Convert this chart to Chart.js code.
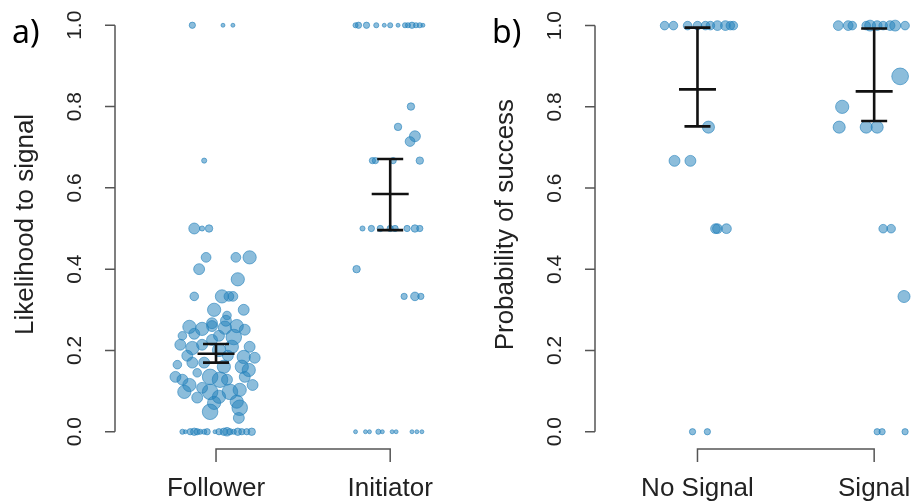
<!DOCTYPE html>
<html>
<head>
<meta charset="utf-8">
<script src="https://cdn.jsdelivr.net/npm/chart.js@4/dist/chart.umd.min.js"></script>
<style>
  html, body { margin: 0; padding: 0; background: #fff; overflow: hidden; width: 912px; height: 502px; }
  #panelA { position: absolute; left: 0; top: 0; }
  #panelB { position: absolute; left: 456px; top: 0; }
</style>
</head>
<body>
<canvas id="panelA" width="500" height="502"></canvas>
<canvas id="panelB" width="530" height="502"></canvas>
<script>
const yTicks = [0, 0.2, 0.4, 0.6, 0.8, 1.0];

// a) likelihood to signal, by role  (x = jittered group position, n = observations)
const roleNames = ['Follower', 'Initiator'];
const followerX = [
  0.864, 1.040, 1.097, 0.932, 0.875, 0.920, 0.960, 0.943, 1.114, 1.193, 0.903, 1.125, 0.875, 1.034, 1.074, 1.097, 0.989, 1.159, 1.063, 1.057, 0.977,
  0.847, 0.920, 0.977, 1.051, 1.119, 1.165, 0.807, 0.875, 1.102, 1.017, 1.193, 0.795, 0.864, 1.017, 1.159, 0.932, 0.864, 1.045, 1.148, 1.188,
  0.892, 0.767, 0.966, 1.165, 1.023, 0.807, 0.847, 0.818, 0.966, 1.080, 1.136, 1.017, 1.119, 0.989, 0.892, 0.966, 1.136, 1.131, 1.068, 1.222,
  0.920, 1.091, 0.835, 1.063, 0.920, 1.210, 0.778, 0.977,
  0.807, 0.824, 0.852, 0.875, 0.892, 0.909, 0.932, 0.949, 0.994, 1.017, 1.045, 1.063, 1.080, 1.102, 1.125, 1.148, 1.176, 1.205
];
const followerY = [
  1, 1, 1, 0.667, 0.5, 0.5, 0.5, 0.429, 0.429, 0.429, 0.4, 0.375, 0.333, 0.333, 0.333, 0.333, 0.3, 0.3, 0.286, 0.273, 0.267,
  0.258, 0.253, 0.260, 0.256, 0.260, 0.251, 0.236, 0.241, 0.233, 0.236, 0.209, 0.214, 0.206, 0.201, 0.184, 0.170, 0.170, 0.160, 0.160, 0.152,
  0.145, 0.135, 0.135, 0.135, 0.128, 0.128, 0.115, 0.098, 0.098, 0.098, 0.103, 0.086, 0.074, 0.071, 0.084, 0.049, 0.059, 0.034, 0.187, 0.182,
  0.214, 0.209, 0.187, 0.128, 0.108, 0.115, 0.165, 0.226,
  0, 0, 0, 0, 0, 0, 0, 0, 0, 0, 0, 0, 0, 0, 0, 0, 0, 0
];
const followerN = [
  3, 1, 1, 2, 7, 2, 4, 6, 6, 9, 7, 9, 5, 9, 6, 6, 9, 7, 5, 7, 7,
  9, 9, 7, 9, 9, 7, 5, 7, 11, 7, 7, 7, 9, 9, 9, 7, 7, 9, 9, 9,
  5, 7, 11, 7, 11, 7, 9, 9, 11, 11, 9, 9, 9, 9, 7, 11, 11, 7, 7, 7,
  7, 9, 7, 7, 7, 7, 5, 7,
  2, 1, 3, 4, 3, 2, 2, 3, 1, 3, 4, 5, 3, 2, 4, 3, 3, 4
];
const initiatorX = [
  1.801, 1.818, 1.864, 1.920, 1.966, 2.000, 2.045, 2.085, 2.102, 2.125, 2.148, 2.170, 2.188,
  2.119, 2.045, 2.142, 2.114,
  1.898, 1.915, 2.017, 2.170,
  1.841, 1.892, 1.943, 2.000, 2.028, 2.097, 2.142, 2.170,
  1.807, 2.080, 2.142, 2.176,
  1.801, 1.858, 1.881, 1.932, 1.955, 2.011, 2.034, 2.125, 2.153, 2.182
];
const initiatorY = [
  1, 1, 1, 1, 1, 1, 1, 1, 1, 1, 1, 1, 1,
  0.8, 0.75, 0.727, 0.714,
  0.667, 0.667, 0.667, 0.667,
  0.5, 0.5, 0.5, 0.5, 0.5, 0.5, 0.5, 0.5,
  0.4, 0.333, 0.333, 0.333,
  0, 0, 0, 0, 0, 0, 0, 0, 0, 0
];
const initiatorN = [
  2, 3, 3, 2, 1, 2, 1, 2, 2, 3, 2, 2, 1,
  4, 4, 7, 6,
  3, 3, 3, 4,
  2, 3, 3, 3, 3, 3, 4, 3,
  4, 3, 5, 3,
  1, 1, 1, 2, 1, 1, 1, 1, 1, 1
];
const roleMean = [0.192, 0.585];
const roleLower = [0.170, 0.496];
const roleUpper = [0.216, 0.671];

// b) probability of success, with / without signal
const signalNames = ['No Signal', 'Signal'];
const noSignalX = [0.814, 0.864, 0.944, 1.000, 1.045, 1.073, 1.113, 1.158, 1.186, 1.203, 1.062, 0.870, 0.960, 1.102, 1.113, 1.164, 0.972, 1.056];
const noSignalY = [1, 1, 1, 1, 1, 1, 1, 1, 1, 1, 0.75, 0.667, 0.667, 0.5, 0.5, 0.5, 0, 0];
const noSignalN = [5, 5, 5, 5, 5, 5, 6, 6, 5, 5, 8, 7, 7, 6, 6, 6, 3, 3];
const signalX = [1.797, 1.853, 1.876, 1.955, 1.977, 2.017, 2.051, 2.090, 2.119, 2.175, 2.147, 1.819, 1.802, 1.955, 2.017, 2.051, 2.096, 2.169, 2.017, 2.045, 2.175];
const signalY = [1, 1, 1, 1, 1, 1, 1, 1, 1, 1, 0.875, 0.8, 0.75, 0.75, 0.75, 0.5, 0.5, 0.333, 0, 0, 0];
const signalN = [6, 6, 5, 5, 7, 6, 5, 6, 7, 5, 12, 9, 8, 8, 8, 5, 5, 8, 3, 3, 3];
const signalMean = [0.843, 0.838];
const signalLower = [0.752, 0.765];
const signalUpper = [0.995, 0.993];

const FONT = "'Liberation Sans', Arial, sans-serif";

function points(xs, ys){
  return xs.map((x, i) => ({x: x, y: ys[i]}));
}

function dotRadius(n){
  return 1.4 + 0.58 * n;
}

function dotSet(xs, ys, ns){
  return {
    data: points(xs, ys),
    backgroundColor: 'rgba(35,128,186,0.52)',
    borderColor: 'rgba(35,128,186,0.6)',
    borderWidth: 1,
    pointRadius: c => dotRadius(ns[c.dataIndex]),
    pointHoverRadius: c => dotRadius(ns[c.dataIndex]),
    clip: false
  };
}

// R style axes, error bars and labels, drawn with the chart's own scales
const rAxes = {
  id: 'rAxes',
  afterDatasetsDraw(chart, args, opts) {
    const ctx = chart.ctx;
    const xs = chart.scales.x, ys = chart.scales.y;
    const area = chart.chartArea;
    ctx.save();

    ctx.strokeStyle = '#111';
    ctx.lineWidth = 2.6;
    opts.mean.forEach((m, i) => {
      const cx = xs.getPixelForValue(i + 1);
      const top = ys.getPixelForValue(opts.upper[i]);
      const bot = ys.getPixelForValue(opts.lower[i]);
      const mid = ys.getPixelForValue(m);
      ctx.beginPath();
      ctx.moveTo(cx, top); ctx.lineTo(cx, bot);
      ctx.moveTo(cx - 13, top); ctx.lineTo(cx + 13, top);
      ctx.moveTo(cx - 13, bot); ctx.lineTo(cx + 13, bot);
      ctx.moveTo(cx - 18.5, mid); ctx.lineTo(cx + 18.5, mid);
      ctx.stroke();
    });

    // y axis
    const left = area.left;
    ctx.strokeStyle = '#555';
    ctx.lineWidth = 1.5;
    ctx.beginPath();
    ctx.moveTo(left, ys.getPixelForValue(yTicks[0]));
    ctx.lineTo(left, ys.getPixelForValue(yTicks[yTicks.length - 1]));
    yTicks.forEach(t => {
      const py = ys.getPixelForValue(t);
      ctx.moveTo(left, py); ctx.lineTo(left - 10, py);
    });
    ctx.stroke();

    ctx.fillStyle = '#222';
    ctx.textAlign = 'center';
    ctx.textBaseline = 'middle';
    ctx.font = '21px ' + FONT;
    yTicks.forEach(t => {
      ctx.save();
      ctx.translate(left - 40, ys.getPixelForValue(t));
      ctx.rotate(-Math.PI / 2);
      ctx.fillText(t.toFixed(1), 0, 0);
      ctx.restore();
    });

    ctx.font = '26px ' + FONT;
    ctx.save();
    ctx.translate(left - 89, ys.getPixelForValue(0.51));
    ctx.rotate(-Math.PI / 2);
    ctx.fillText(opts.title, 0, 0);
    ctx.restore();

    // x axis bracket
    const x1 = xs.getPixelForValue(1), x2 = xs.getPixelForValue(opts.names.length);
    const base = area.bottom + 1;
    ctx.beginPath();
    ctx.moveTo(x1, base + 13); ctx.lineTo(x1, base);
    ctx.lineTo(x2, base); ctx.lineTo(x2, base + 13);
    ctx.stroke();
    opts.names.forEach((name, i) => {
      ctx.fillText(name, xs.getPixelForValue(i + 1), base + 40);
    });

    // panel letter
    ctx.fillStyle = '#000';
    ctx.textAlign = 'left';
    ctx.font = "32px 'Noto Sans', 'Open Sans', sans-serif";
    ctx.fillText(opts.letter, left - 103, 34);
    ctx.restore();
  }
};

function makePanel(id, sets, names, mean, lower, upper, title, letter, padding){
  return new Chart(document.getElementById(id), {
    type: 'scatter',
    data: { datasets: sets },
    options: {
      responsive: false,
      animation: false,
      layout: { padding: padding },
      scales: {
        x: { type: 'linear', min: 0.42, max: 2.58, display: false },
        y: { type: 'linear', min: -0.04, max: 1.04, display: false }
      },
      plugins: {
        legend: { display: false },
        tooltip: { enabled: false },
        rAxes: { names: names, mean: mean, lower: lower, upper: upper, title: title, letter: letter }
      }
    },
    plugins: [rAxes]
  });
}

makePanel('panelA',
  [dotSet(followerX, followerY, followerN), dotSet(initiatorX, initiatorY, initiatorN)],
  roleNames, roleMean, roleLower, roleUpper, 'Likelihood to signal', 'a)',
  { left: 115, right: 5, top: 9, bottom: 54 });

makePanel('panelB',
  [dotSet(noSignalX, noSignalY, noSignalN), dotSet(signalX, signalY, signalN)],
  signalNames, signalMean, signalLower, signalUpper, 'Probability of success', 'b)',
  { left: 139, right: 9, top: 9, bottom: 54 });
</script>
</body>
</html>
